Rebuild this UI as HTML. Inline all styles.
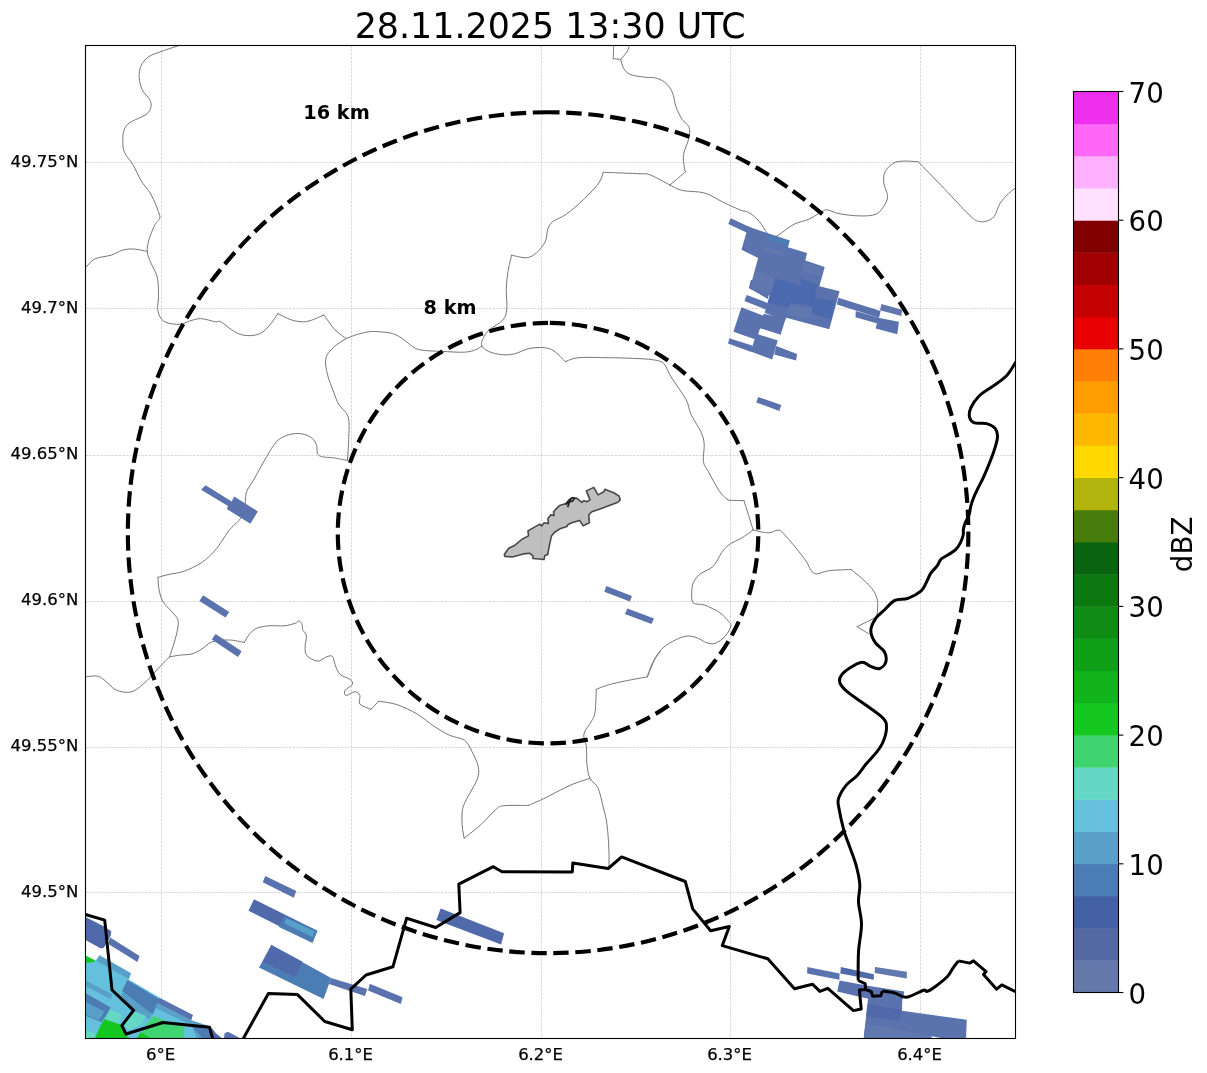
<!DOCTYPE html>
<html><head><meta charset="utf-8"><title>Radar 28.11.2025 13:30 UTC</title>
<style>
html,body{margin:0;padding:0;background:#fff;}
body{width:1207px;height:1073px;overflow:hidden;}
svg{display:block;}
text{font-family:"DejaVu Sans","Liberation Sans",sans-serif;fill:#000;}
</style></head><body>
<svg width="1207" height="1073" viewBox="0 0 1207 1073">
<rect width="1207" height="1073" fill="#fff"/>
<defs><clipPath id="ax"><rect x="85.5" y="45.5" width="930.0" height="993.0"/></clipPath></defs>
<g clip-path="url(#ax)">

<g stroke="#b0b0b0" stroke-width="0.65" stroke-dasharray="2.6 1.1" fill="none" opacity="0.75">
<line x1="161.5" y1="45.5" x2="161.5" y2="1038.5"/>
<line x1="351.5" y1="45.5" x2="351.5" y2="1038.5"/>
<line x1="541.5" y1="45.5" x2="541.5" y2="1038.5"/>
<line x1="730.5" y1="45.5" x2="730.5" y2="1038.5"/>
<line x1="920.5" y1="45.5" x2="920.5" y2="1038.5"/>
<line x1="85.5" y1="162.5" x2="1015.5" y2="162.5"/>
<line x1="85.5" y1="308.5" x2="1015.5" y2="308.5"/>
<line x1="85.5" y1="455.5" x2="1015.5" y2="455.5"/>
<line x1="85.5" y1="601.5" x2="1015.5" y2="601.5"/>
<line x1="85.5" y1="747.5" x2="1015.5" y2="747.5"/>
<line x1="85.5" y1="892.5" x2="1015.5" y2="892.5"/>
</g>
<g stroke="#767676" stroke-width="1.0" fill="none" stroke-linejoin="round" stroke-linecap="round">
<path d="M180.7,45.0C177.6,46.0 167.5,49.2 162.1,51.2C156.7,53.2 151.9,54.4 148.4,56.9C144.9,59.4 142.4,62.7 140.9,66.1C139.4,69.5 139.0,73.3 139.2,77.3C139.4,81.2 140.4,86.1 142.2,89.8C143.9,93.5 148.2,96.8 149.7,99.7C151.1,102.6 151.5,104.7 150.9,107.2C150.3,109.7 149.4,112.0 145.9,114.6C142.4,117.2 133.4,120.1 129.8,122.6C126.2,125.1 125.5,126.8 124.3,129.6C123.1,132.4 122.8,135.8 122.8,139.5C122.8,143.2 122.5,147.6 124.3,151.9C126.1,156.2 130.7,160.8 133.5,165.6C136.3,170.4 138.0,175.7 140.9,180.5C143.8,185.3 148.0,189.0 150.9,194.2C153.8,199.4 157.0,207.5 158.4,211.6C159.8,215.7 160.4,215.9 159.6,218.6C158.8,221.3 155.5,222.3 153.4,227.8C151.3,233.3 146.7,243.5 147.2,251.4C147.7,259.3 154.7,268.9 156.6,275.1C158.5,281.3 158.1,284.8 158.4,288.8C158.7,292.8 158.5,295.9 158.4,299.0C158.3,302.1 157.4,304.5 157.6,307.4C157.8,310.2 158.2,313.6 159.6,316.1C161.0,318.6 162.5,320.9 165.8,322.3C169.1,323.7 175.6,324.5 179.5,324.3C183.4,324.1 186.0,322.1 189.5,321.1C193.0,320.2 196.2,318.5 200.6,318.6C204.9,318.7 212.3,321.3 215.6,321.8C218.9,322.3 217.8,320.3 220.5,321.6C223.2,322.9 228.2,327.6 231.7,329.8C235.2,332.0 238.0,333.9 241.7,334.8C245.4,335.7 250.4,335.9 254.1,335.3C257.8,334.7 261.0,333.4 264.1,331.0C267.2,328.6 270.5,324.0 272.8,321.1C275.1,318.2 277.0,314.9 277.8,313.6"/>
<path d="M277.8,313.6C280.1,314.7 287.0,318.5 291.4,319.9C295.8,321.3 300.2,321.9 303.9,321.8C307.6,321.7 310.5,320.5 313.8,319.4C317.1,318.2 322.1,315.6 323.8,314.9"/>
<path d="M323.8,314.9C325.7,317.4 331.3,325.9 335.0,329.8C338.7,333.7 344.3,337.1 346.2,338.5"/>
<path d="M85.5,267.6C87.1,266.2 90.6,261.0 94.9,258.9C99.2,256.8 106.5,256.6 111.1,255.2C115.7,253.8 118.6,251.2 122.3,250.2C126.0,249.2 129.3,248.8 133.5,249.0C137.7,249.2 144.9,251.0 147.2,251.4"/>
<path d="M346.2,338.5C347.9,337.9 352.4,335.9 356.1,334.8C359.8,333.7 364.6,332.3 368.6,331.8C372.6,331.3 375.9,331.5 379.9,331.8C383.8,332.1 388.6,332.4 392.3,333.5C396.0,334.6 398.8,336.2 402.3,338.5C405.8,340.8 410.2,345.2 413.5,347.2C416.8,349.1 417.4,349.5 422.2,350.2C427.0,350.9 435.1,351.1 442.1,351.4C449.2,351.7 458.9,352.5 464.5,352.2C470.1,351.9 472.8,350.7 475.7,349.7C478.6,348.7 480.9,346.6 481.9,346.0"/>
<path d="M346.2,338.5C344.1,339.9 337.1,343.9 333.7,347.2C330.3,350.5 326.8,353.8 325.8,358.4C324.8,363.0 326.2,369.0 327.5,374.6C328.8,380.2 331.8,387.0 333.7,392.0C335.6,397.0 336.3,400.2 338.7,404.4C341.1,408.5 346.5,411.1 348.2,416.9C349.9,422.7 348.8,432.1 348.7,439.3C348.6,446.6 347.6,456.9 347.4,460.4"/>
<path d="M347.4,460.4C345.1,460.0 338.5,458.7 333.7,457.9C328.9,457.1 321.7,457.7 318.8,455.4C315.9,453.1 317.8,447.3 316.3,444.2C314.9,441.1 313.0,438.6 310.1,436.8C307.2,435.0 302.8,433.7 298.9,433.5C295.0,433.3 290.2,434.1 286.5,435.5C282.8,436.9 279.8,438.2 276.5,441.7C273.2,445.2 270.3,450.5 266.6,456.7C262.9,462.9 257.4,473.3 254.1,479.1C250.8,484.9 248.1,487.8 246.7,491.5C245.2,495.2 245.8,498.1 245.4,501.5C245.0,504.9 245.5,508.9 244.5,512.0C243.5,515.1 241.7,517.1 239.2,520.1C236.7,523.1 232.2,526.5 229.3,530.0C226.4,533.5 224.3,537.7 221.8,541.2C219.3,544.7 217.6,547.7 214.3,551.2C211.0,554.7 206.9,559.1 201.9,562.4C196.9,565.7 189.9,569.1 184.5,571.1C179.1,573.1 174.0,573.3 169.6,574.3C165.2,575.3 159.8,576.8 157.9,577.3"/>
<path d="M157.9,577.3C158.1,579.4 158.2,585.6 159.1,589.8C160.0,593.9 160.7,598.1 163.3,602.2C165.9,606.3 172.0,611.3 174.5,614.6C177.0,617.9 178.1,618.4 178.3,622.1C178.5,625.8 177.2,631.2 175.8,637.0C174.4,642.8 170.6,653.6 169.6,656.9"/>
<path d="M169.6,656.9C167.9,658.6 163.3,663.0 159.6,666.9C155.9,670.8 151.3,676.6 147.2,680.5C143.0,684.4 138.4,688.5 134.7,690.5C131.0,692.5 128.1,692.4 124.8,692.2C121.5,692.0 118.1,691.2 114.8,689.3C111.5,687.3 107.8,682.7 104.9,680.5C102.0,678.3 100.6,676.7 97.4,676.1C94.2,675.5 87.5,676.7 85.5,676.8"/>
<path d="M169.6,656.9C171.2,656.6 175.8,655.7 179.5,655.2C183.2,654.7 188.2,654.9 191.9,653.9C195.6,652.9 198.6,651.0 201.9,649.0C205.2,647.0 207.2,643.5 211.8,642.0C216.4,640.5 223.9,639.9 229.3,640.0C234.7,640.1 241.7,642.1 244.2,642.5"/>
<path d="M244.2,642.5C245.0,641.2 247.1,636.9 249.2,634.5C251.3,632.1 253.3,629.8 256.6,628.3C259.9,626.8 264.5,626.2 269.1,625.8C273.7,625.4 279.6,626.2 284.0,625.8C288.4,625.4 292.7,624.1 295.2,623.3C297.7,622.5 297.8,620.6 298.9,620.8C300.0,621.0 301.5,623.1 302.1,624.6C302.7,626.1 301.9,627.7 302.6,629.6C303.3,631.5 306.0,632.9 306.4,635.8C306.8,638.7 305.0,643.7 305.1,647.0C305.2,650.3 304.8,653.4 306.9,655.7C309.0,658.1 314.4,660.9 317.6,661.1C320.8,661.3 323.8,657.7 326.3,656.9C328.8,656.1 331.1,655.1 332.5,656.4C333.9,657.6 333.8,661.4 335.0,664.4C336.2,667.4 337.5,671.8 340.0,674.3C342.5,676.8 347.8,677.6 349.9,679.3C352.0,681.0 353.2,682.4 352.4,684.3C351.6,686.2 345.9,688.6 344.9,690.5C343.9,692.4 344.5,695.3 346.2,695.5C347.9,695.7 352.6,691.7 354.9,691.7C357.2,691.7 359.1,693.4 359.9,695.5C360.7,697.6 358.0,701.9 359.9,704.2C361.8,706.5 369.1,708.4 371.0,709.2"/>
<path d="M371.0,709.2C372.3,707.9 377.4,702.5 378.7,701.2"/>
<path d="M378.7,701.2C381.8,701.8 390.9,702.6 397.3,704.7C403.7,706.9 411.0,710.5 417.2,714.1C423.4,717.8 429.2,723.1 434.6,726.6C440.0,730.1 444.6,733.0 449.6,735.3C454.6,737.6 460.8,737.5 464.5,740.2C468.2,742.9 469.6,747.0 471.9,751.4C474.2,755.8 477.2,762.0 478.2,766.4C479.2,770.8 478.8,774.1 477.7,778.0C476.6,781.9 473.9,785.8 471.7,789.9C469.5,794.0 466.3,799.1 464.7,802.8C463.1,806.4 462.6,808.0 462.2,811.8C461.8,815.6 461.9,821.3 462.2,825.7C462.5,830.1 463.8,836.1 464.1,838.2"/>
<path d="M464.1,838.2C466.7,836.1 474.4,830.4 479.7,825.7C484.9,821.0 491.6,813.1 495.6,809.8C499.6,806.5 498.0,806.5 503.5,805.8C509.0,805.1 524.2,805.5 528.4,805.4"/>
<path d="M528.4,805.4C530.9,804.3 536.2,802.2 543.3,798.8C550.4,795.4 563.3,788.3 571.1,784.9C578.9,781.5 586.9,779.5 590.0,778.4"/>
<path d="M660.2,651.9C659.3,653.1 656.9,655.2 654.8,659.4C652.6,663.5 648.5,673.9 647.3,676.8"/>
<path d="M647.3,676.8C642.9,677.6 628.0,680.3 621.2,681.8C614.4,683.2 610.4,684.2 606.3,685.5C602.1,686.8 598.0,688.7 596.3,689.3"/>
<path d="M596.3,689.3C596.1,693.0 595.9,706.2 595.1,711.6C594.3,717.0 593.2,717.9 591.3,721.6C589.4,725.3 584.7,729.9 583.9,734.0C583.1,738.1 585.9,741.5 586.4,746.5C586.9,751.5 586.3,758.6 586.9,763.9C587.5,769.2 588.1,774.4 590.0,778.4C591.9,782.4 595.9,783.3 598.0,787.9C600.1,792.5 601.4,799.8 602.9,805.8C604.4,811.8 605.9,816.4 606.9,823.7C607.9,831.0 608.6,842.2 608.9,849.5C609.2,856.8 608.9,864.4 608.9,867.4"/>
<path d="M613.7,45.0C613.6,47.3 613.3,56.4 613.2,58.7"/>
<path d="M613.2,58.7C614.5,58.8 619.5,59.3 620.7,59.4"/>
<path d="M620.7,59.4C621.8,58.0 626.0,53.6 627.4,51.2C628.8,48.8 628.9,46.0 629.2,45.0"/>
<path d="M620.7,59.4C621.2,60.9 622.0,66.0 623.7,68.6C625.4,71.2 627.4,73.3 631.1,74.8C634.8,76.2 642.1,76.8 646.1,77.3C650.1,77.8 651.8,77.0 654.9,77.8C658.0,78.6 662.0,79.9 664.9,82.3C667.8,84.7 670.4,88.0 672.3,92.2C674.2,96.4 674.4,102.6 676.1,107.2C677.8,111.8 680.1,116.2 682.3,119.6C684.5,123.0 688.3,124.3 689.3,127.6C690.3,130.9 689.5,135.0 688.5,139.5C687.5,144.0 684.2,149.8 683.5,154.4C682.8,159.0 684.0,164.0 684.3,166.9C684.6,169.8 685.3,171.0 685.5,171.8"/>
<path d="M685.5,171.8C682.9,174.0 672.5,182.8 669.9,185.0"/>
<path d="M669.9,185.0C666.6,183.3 655.0,176.7 650.0,174.8C645.0,172.9 644.4,174.1 640.0,173.8C635.6,173.5 629.8,173.3 623.7,173.1C617.6,172.8 606.7,172.4 603.3,172.3"/>
<path d="M603.3,172.3C602.5,174.1 602.0,178.5 598.8,183.0C595.6,187.5 589.3,194.0 583.9,199.2C578.5,204.4 571.7,210.4 566.5,214.1C561.3,217.8 555.9,219.1 552.8,221.6C549.7,224.1 549.0,225.8 547.8,229.1C546.5,232.4 547.2,237.6 545.3,241.5C543.4,245.4 539.7,250.0 536.6,252.7C533.5,255.4 530.9,257.3 526.7,257.7C522.6,258.1 514.2,255.6 511.7,255.2"/>
<path d="M511.7,255.2C511.1,257.9 508.9,265.7 508.0,271.3C507.1,276.9 506.5,282.6 506.3,288.8C506.1,295.0 507.4,303.5 506.8,308.7C506.2,313.9 505.9,316.4 503.0,319.9C500.1,323.4 492.7,326.7 489.4,329.8C486.1,332.9 484.4,335.8 483.1,338.5C481.9,341.2 480.8,343.8 481.9,346.0C482.9,348.2 486.1,350.2 489.4,351.7C492.7,353.1 497.7,354.3 501.8,354.7C505.9,355.1 509.6,354.9 514.2,353.9C518.8,352.9 524.2,349.5 529.2,348.5C534.2,347.5 540.0,347.3 544.1,347.7C548.2,348.1 550.5,348.6 554.0,350.9C557.5,353.2 563.3,359.8 565.2,361.6"/>
<path d="M565.2,361.6C567.5,361.0 571.6,358.4 578.9,357.7C586.2,357.0 599.7,357.6 608.8,357.7C617.9,357.8 626.3,358.1 633.6,358.4C640.9,358.7 647.4,358.9 652.4,359.7C657.4,360.5 660.5,360.5 663.6,363.4C666.7,366.3 667.4,371.1 671.1,377.1C674.8,383.1 682.7,393.3 686.0,399.5C689.3,405.7 688.5,409.0 691.0,414.4C693.5,419.8 698.7,426.8 700.9,431.8C703.1,436.8 703.8,439.2 704.2,444.2C704.6,449.2 702.7,457.0 703.4,461.6C704.1,466.2 705.7,466.6 708.4,471.6C711.1,476.6 716.3,486.7 719.6,491.5C722.9,496.3 726.8,498.8 728.3,500.2"/>
<path d="M728.3,500.2C730.9,500.3 741.4,500.6 744.0,500.7"/>
<path d="M744.0,500.7C745.5,505.6 751.7,525.1 753.2,530.0"/>
<path d="M669.9,185.0C672.0,185.9 676.5,189.2 682.3,190.5C688.1,191.8 698.1,191.1 704.7,193.0C711.3,194.9 716.3,198.9 722.1,201.7C727.9,204.5 734.9,207.8 739.5,209.7C744.1,211.6 746.2,210.9 749.5,212.9C752.8,214.9 756.5,218.3 759.4,221.6C762.3,224.9 764.8,230.1 766.9,232.8C769.0,235.5 771.0,237.1 771.8,238.0"/>
<path d="M771.8,238.0C772.8,237.6 774.4,237.6 778.1,235.3C781.8,233.0 789.0,226.8 794.2,224.1C799.4,221.4 804.2,221.4 809.2,219.1C814.2,216.8 820.8,211.8 824.1,210.4C827.4,209.0 826.6,209.9 829.1,210.4C831.6,210.9 834.0,212.7 839.0,213.6C844.0,214.5 852.7,215.8 858.9,215.9C865.1,216.0 871.9,216.1 876.3,214.1C880.6,212.1 883.1,207.3 885.0,204.2C886.9,201.1 887.7,199.0 887.5,195.5C887.3,192.0 884.2,186.9 883.8,183.0C883.4,179.1 883.4,175.1 885.0,171.8C886.6,168.5 890.6,164.9 893.7,163.1C896.8,161.3 899.6,161.3 903.7,161.1C907.8,160.9 915.8,161.6 918.2,161.7"/>
<path d="M918.2,161.7C922.5,166.1 935.4,179.5 943.9,188.3C952.4,197.2 963.5,209.4 969.1,214.8C974.7,220.2 974.7,219.9 977.5,221.0C980.3,222.1 983.1,222.1 985.9,221.3C988.7,220.5 992.0,219.1 994.3,216.2C996.6,213.2 997.6,207.3 999.9,203.6C1002.2,199.9 1005.6,196.5 1008.3,193.8C1010.9,191.2 1014.5,188.7 1015.8,187.7"/>
<path d="M753.2,530.0C751.2,531.4 745.0,536.0 741.2,538.3C737.4,540.6 733.7,541.4 730.5,543.7C727.3,546.0 724.8,548.5 721.9,552.3C719.0,556.1 716.8,562.7 713.2,566.3C709.6,569.9 703.6,571.2 700.3,573.9C697.0,576.6 694.8,579.3 693.4,582.5C692.0,585.7 691.7,589.8 691.7,593.2C691.7,596.6 691.2,600.9 693.4,602.9C695.5,604.9 700.2,603.5 704.6,605.1C709.0,606.7 715.8,609.9 719.7,612.6C723.7,615.3 726.4,619.0 728.3,621.2C730.2,623.4 731.4,623.5 730.9,626.0C730.4,628.5 727.7,633.4 725.1,636.3C722.5,639.2 718.5,642.1 715.4,643.2C712.3,644.3 710.0,643.8 706.8,642.8C703.6,641.8 699.6,638.5 696.0,637.4C692.4,636.3 689.2,635.6 685.2,636.3C681.2,637.0 676.2,639.5 672.3,641.7C668.3,643.9 664.7,645.9 661.5,649.3C658.3,652.7 655.3,657.6 652.9,662.2C650.5,666.8 648.2,674.4 647.3,676.8"/>
<path d="M753.2,530.0C755.7,530.5 764.1,532.9 768.2,532.9C772.3,532.9 775.4,530.0 777.9,530.1C780.4,530.2 780.4,530.6 783.3,533.4C786.2,536.2 791.3,542.3 795.1,546.9C798.9,551.5 803.2,556.9 805.9,560.9C808.6,564.9 809.5,568.4 811.3,570.6C813.1,572.8 813.5,573.9 816.6,573.9C819.7,573.9 823.9,571.3 829.6,570.6C835.4,569.9 847.5,569.7 851.1,569.5"/>
<path d="M851.1,569.5C853.2,571.3 860.2,576.7 864.0,580.3C867.8,583.9 871.4,587.5 873.7,591.1C876.0,594.7 877.1,597.6 877.6,601.9C878.1,606.2 877.1,614.4 877.0,616.9"/>
<path d="M877.0,616.9C873.7,618.5 860.4,625.0 857.1,626.6"/>
<path d="M857.1,626.6C859.0,627.8 866.4,632.4 868.3,633.5"/>
</g>
<g stroke="none">
<polygon fill="#5a72ae" points="205.6,485.3 231.7,501.4 234.2,496.5 257.9,511.4 250.4,523.8 226.8,508.9 228.0,505.9 201.1,489.8"/>
<polygon fill="#5a72ae" points="203.1,595.2 229.3,612.1 225.5,617.6 199.4,600.9"/>
<polygon fill="#5a72ae" points="215.6,634.0 241.7,651.2 238.0,656.9 211.8,639.5"/>
<polygon fill="#5a72ae" points="606.3,586.0 631.9,596.0 629.9,601.4 604.3,591.7"/>
<polygon fill="#5a72ae" points="627.4,608.4 654.0,618.4 651.5,624.1 624.9,613.9"/>
<polygon fill="#5a72ae" points="758.2,397.0 781.3,404.9 779.3,411.1 756.2,402.4"/>
<polygon fill="#4f69aa" points="440.7,908.4 504.1,933.2 501.1,944.4 436.4,920.0"/>
<polygon fill="#5a72ae" points="331.0,978.0 367.3,989.1 364.9,995.9 329.0,984.0"/>
<polygon fill="#5a72ae" points="369.8,983.7 402.6,997.3 400.9,1004.1 368.1,990.4"/>
<polygon fill="#5a72ae" points="265.2,876.0 296.3,891.0 293.8,897.7 262.7,882.3"/>
<polygon fill="#4f69aa" points="254.0,899.2 317.4,930.7 312.4,942.7 248.5,910.8"/>
<polygon fill="#4c7cb4" points="283.8,915.8 317.4,930.7 312.4,942.7 278.9,927.0"/>
<polygon fill="#58a0c8" points="286.3,918.3 314.9,931.5 312.4,936.9 284.3,923.3"/>
<polygon fill="#4c7cb4" points="271.4,945.1 331.1,978.0 323.6,999.1 259.0,967.5"/>
<polygon fill="#4f69aa" points="271.4,945.1 302.5,961.8 295.0,976.7 262.7,961.8"/>
<polygon fill="#5a72ae" points="730.7,218.3 750.6,227.4 748.1,233.2 728.3,224.1"/>
<polygon fill="#5a72ae" points="748.1,226.5 789.6,240.6 787.9,247.3 807.0,253.1 805.3,260.5 824.7,267.1 819.4,286.2 839.6,291.2 837.6,298.6 829.3,329.3 786.3,317.7 784.6,321.0 764.7,312.7 768.0,301.1 769.7,295.3 749.8,288.7 758.1,258.0 741.5,249.7"/>
<polygon fill="#5a72ae" points="838.4,297.8 880.7,311.0 879.0,317.7 836.8,304.4"/>
<polygon fill="#5a72ae" points="855.8,311.0 879.0,317.7 877.4,323.5 855.5,317.3"/>
<polygon fill="#6078ae" points="881.5,304.1 902.2,309.7 901.4,316.0 879.9,310.2"/>
<polygon fill="#5a72ae" points="878.2,317.7 898.9,321.8 897.3,334.2 875.7,328.4"/>
<polygon fill="#5a72ae" points="741.4,307.3 764.2,316.0 756.3,339.7 733.4,331.7"/>
<polygon fill="#5a72ae" points="763.7,313.8 785.6,318.8 780.6,334.7 758.3,327.7"/>
<polygon fill="#5a72ae" points="756.3,333.7 777.7,340.6 772.2,359.5 750.8,351.6"/>
<polygon fill="#5a72ae" points="729.4,338.2 752.8,345.8 751.3,352.1 728.0,343.6"/>
<polygon fill="#5a72ae" points="776.2,346.1 797.1,354.1 796.1,360.5 774.2,354.6"/>
<polygon fill="#5a72ae" points="746.8,294.9 768.7,303.4 766.7,309.8 744.4,300.9"/>
<polygon fill="#5a72ae" points="750.8,280.0 773.7,280.0 767.7,298.9 748.8,288.0"/>
<polygon fill="#4a69ae" points="774.7,277.9 801.2,286.2 799.5,277.9 817.7,284.5 814.4,297.8 835.1,301.1 831.0,319.3 811.1,312.7 812.8,306.1 789.6,302.8 787.9,307.7 768.0,302.8"/>
<polygon fill="#6078ae" points="764.7,246.4 784.6,251.4 782.9,256.4 763.9,251.4"/>
<polygon fill="#6078ae" points="804.5,262.2 823.5,268.0 821.0,276.3 802.0,271.3"/>
<polygon fill="#6078ae" points="755.6,271.3 775.5,277.9 771.3,292.8 750.6,287.9"/>
<polygon fill="#6078ae" points="789.6,304.4 811.9,308.6 810.3,319.3 786.3,314.4"/>
<polygon fill="#4c7cb4" points="769.7,235.7 789.6,240.6 787.9,246.4 768.0,240.6"/>
<polygon fill="#5a72ae" points="807.3,967.0 839.6,973.6 839.4,979.8 807.1,973.6"/>
<polygon fill="#4f69aa" points="840.9,967.0 873.8,974.2 873.8,979.8 840.3,973.6"/>
<polygon fill="#6078ae" points="875.1,967.0 906.8,971.7 906.8,978.6 874.7,973.0"/>
<polygon fill="#5a72ae" points="839.6,980.4 869.5,986.0 904.3,991.6 903.0,999.1 867.0,998.5 837.2,991.6"/>
<polygon fill="#5a72ae" points="868.3,996.7 902.6,991.4 901.9,1010.8 966.8,1019.8 966.0,1038.4 863.6,1038.4"/>
<polygon fill="#4f69aa" points="867.6,1004.1 901.1,1010.1 900.4,1020.5 866.1,1016.1"/>
<polygon fill="#6078ae" points="865.4,1023.5 899.6,1029.5 932.5,1036.2 944.4,1038.7 863.9,1038.7"/>
<polygon fill="#ffffff" points="931.7,1036.2 966.0,1042.9 966.0,1044.4 931.7,1044.4"/>
<polygon fill="#4f69aa" points="84.5,916.4 104.6,926.8 111.3,931.3 110.6,935.8 103.9,947.7 100.9,948.5 84.5,939.5"/>
<polygon fill="#5a72ae" points="109.8,937.3 139.6,955.9 137.4,961.9 108.3,944.0"/>
<polygon fill="#14c820" points="84.9,955.2 95.5,960.5 93.3,965.8 84.9,962.3"/>
<polygon fill="#64c0dc" points="84.9,963.2 94.6,961.8 99.5,955.2 130.9,973.3 128.7,979.5 160.2,998.1 170.0,1003.3 192.8,1014.9 191.1,1020.2 209.8,1026.5 211.4,1028.1 221.4,1039.0 84.0,1039.0"/>
<polygon fill="#58a0c8" points="99.5,955.2 130.9,973.3 128.7,979.1 96.8,960.9"/>
<polygon fill="#58a0c8" points="84.9,980.0 112.3,994.6 110.6,999.2 84.9,985.6"/>
<polygon fill="#4c7cb4" points="84.9,992.8 110.6,1007.4 107.9,1013.6 101.3,1022.1 84.9,1015.4"/>
<polygon fill="#58a0c8" points="84.9,1001.7 104.4,1011.4 99.1,1020.3 84.9,1014.5"/>
<polygon fill="#64d8c4" points="109.7,1009.2 121.2,1015.0 119.4,1024.7 104.4,1019.4"/>
<polygon fill="#64d8c4" points="84.9,1029.6 95.5,1033.6 94.2,1038.9 84.9,1038.9"/>
<polygon fill="#14c820" points="104.4,1019.2 121.2,1024.7 126.5,1035.3 130.1,1038.9 94.6,1038.9 100.8,1024.7"/>
<polygon fill="#4c7cb4" points="127.4,980.0 159.3,999.0 156.2,1007.0 152.2,1015.0 122.1,991.1"/>
<polygon fill="#58a0c8" points="123.0,991.9 152.2,1014.1 149.5,1019.4 133.6,1010.5 119.4,999.9"/>
<polygon fill="#5a72ae" points="159.3,998.0 170.0,1003.3 192.8,1014.9 191.1,1020.2 168.0,1008.5 157.3,1003.0"/>
<polygon fill="#58a0c8" points="157.3,1003.0 168.0,1008.5 191.1,1020.2 209.8,1026.5 211.0,1029.0 186.0,1022.5 166.0,1013.0 154.9,1007.4"/>
<polygon fill="#64d8c4" points="133.6,1011.0 146.0,1015.9 140.7,1024.7 128.3,1030.0 123.9,1024.7"/>
<polygon fill="#40d470" points="154.0,1015.9 163.7,1020.3 184.0,1024.7 184.0,1038.9 138.9,1038.9 146.0,1024.7"/>
<polygon fill="#14c820" points="140.7,1032.2 152.2,1038.9 136.3,1038.9"/>
<polygon fill="#58a0c8" points="191.1,1024.8 209.8,1027.3 211.0,1038.9 197.3,1038.9"/>
<polygon fill="#4c7cb4" points="192.4,1026.5 209.8,1028.3 211.0,1038.9 203.1,1038.9"/>
<polygon fill="#4f69aa" points="211.4,1027.3 215.2,1033.1 221.8,1038.1 222.2,1038.9 213.1,1038.9"/>
<polygon fill="#5a72ae" points="224.7,1033.2 228.0,1031.8 238.8,1037.6 239.3,1039.0 223.7,1039.0"/>
</g>
<polygon points="504.3,554.5 508.6,548.3 514.9,545.2 522.3,539.0 528.5,535.9 527.9,530.9 539.7,524.1 541.6,525.9 544.1,522.8 548.4,523.5 547.8,518.5 550.9,514.8 554.0,515.4 553.4,511.7 559.6,505.4 565.8,503.6 569.5,499.2 572.6,497.6 577.0,498.4 582.0,502.3 583.8,500.5 586.9,501.7 590.0,499.9 586.3,490.9 593.8,487.4 598.1,494.9 603.7,491.8 604.9,489.3 614.3,493.0 619.2,496.1 620.2,499.9 618.0,502.3 608.1,506.1 599.4,509.2 591.9,511.7 588.8,514.8 589.4,522.8 583.2,525.9 579.5,520.4 572.0,522.8 567.7,524.7 567.0,526.6 560.8,528.4 554.6,532.2 551.5,535.9 549.6,544.6 548.4,550.8 547.8,554.5 544.7,555.8 544.1,559.5 532.9,558.5 532.9,555.8 529.8,553.3 523.6,553.9 512.4,557.0 504.9,556.4" fill="#808080" fill-opacity="0.5" stroke="#000" stroke-opacity="0.68" stroke-width="1.6" stroke-linejoin="round"/>
<path d="M565.8,504.8L569.5,500.5L572.0,498.0L574.5,498.6L572.6,501.1L569.5,501.7L567.7,507.3" fill="none" stroke="#202020" stroke-width="1.7" stroke-linejoin="round"/>
<g stroke="#000" stroke-width="3.0" fill="none" stroke-linejoin="round" stroke-linecap="butt">
<path d="M85.4,914.5L104.7,920.1L112.0,990.0L133.6,1010.3L121.8,1025.6L126.1,1034.0L163.0,1022.5L209.5,1027.2L213.0,1040.0"/>
<path d="M242.5,1040.0L268.4,993.4L297.5,994.6L324.8,1021.5L352.3,1029.7L350.8,989.1L366.0,975.0L392.9,966.8L406.6,918.3L435.7,927.5L460.1,912.6L458.8,884.2L493.3,866.7L502.0,871.8L572.3,871.9L572.8,863.1L608.2,868.5L621.6,856.9L685.3,881.5L692.7,908.9L710.6,930.7L729.3,926.5L722.3,945.6L767.8,958.8L794.5,988.8L812.4,984.2L819.9,991.4L827.8,988.3L853.4,1010.6L861.2,1009.0L859.4,989.9L865.7,989.5"/>
<path d="M858.2,980.5L865.1,983.6L865.7,989.5L871.3,991.6L872.6,996.2L880.7,995.7L882.5,991.0"/>
<path d="M958.5,960.9L969.7,963.1L973.5,960.9L986.1,971.6L983.5,974.6L996.6,989.2L1001.8,984.9L1016.0,991.8"/>
<path d="M1017.0,360.0C1016.7,360.5 1017.0,360.3 1015.2,363.0C1013.4,365.7 1010.0,372.3 1006.0,376.3C1002.0,380.3 995.9,384.0 991.4,387.2C986.9,390.4 982.7,392.3 979.3,395.7C975.9,399.1 972.4,404.2 970.8,407.8C969.2,411.4 969.0,415.0 969.6,417.5C970.2,420.0 971.7,421.9 974.5,422.9C977.3,423.9 983.2,422.7 986.6,423.6C990.0,424.5 993.3,426.2 995.1,428.4C996.9,430.6 997.7,433.0 997.5,436.9C997.3,440.8 996.0,445.0 993.8,451.5C991.6,458.0 986.9,469.4 984.2,475.7C981.5,482.0 979.2,485.6 977.4,489.3C975.6,493.0 974.7,494.9 973.6,497.7C972.5,500.5 971.5,503.3 970.8,506.1C970.1,508.9 970.1,511.7 969.2,514.5C968.3,517.3 966.2,520.4 965.2,522.9C964.2,525.4 963.7,527.4 963.4,529.4C963.1,531.4 963.7,532.8 963.2,535.0C962.7,537.2 961.8,540.0 960.6,542.4C959.4,544.8 957.9,547.4 955.9,549.4C953.9,551.4 951.0,553.0 948.5,554.6C946.0,556.2 942.9,557.4 941.0,559.2C939.1,561.1 939.0,563.4 937.3,565.7C935.6,568.0 932.6,570.5 930.8,573.2C929.0,575.9 928.1,579.1 926.5,582.0C924.9,584.9 924.3,588.1 921.2,590.8C918.1,593.5 912.3,596.7 907.9,598.3C903.5,599.9 898.7,598.4 894.8,600.4C890.9,602.4 887.6,606.9 884.4,610.0C881.1,613.1 877.6,615.6 875.3,619.1C873.0,622.6 870.8,627.0 870.8,630.9C870.8,634.8 873.0,639.1 875.3,642.6C877.6,646.1 882.7,648.5 884.4,651.8C886.1,655.1 886.6,659.4 885.7,662.2C884.8,665.0 881.8,668.1 879.2,668.7C876.6,669.4 872.8,667.2 870.0,666.1C867.2,665.0 865.5,662.0 862.2,662.2C859.0,662.4 854.0,665.2 850.5,667.4C847.0,669.6 843.0,672.7 841.3,675.3C839.5,677.9 838.9,680.3 840.0,683.1C841.1,685.9 843.4,688.5 847.8,692.2C852.1,695.9 860.2,700.9 866.1,705.3C872.0,709.6 879.7,714.6 883.1,718.3C886.5,722.0 886.5,723.5 886.5,727.4C886.5,731.3 884.8,737.7 883.1,741.8C881.5,745.9 879.4,748.5 876.6,752.2C873.8,755.9 869.4,760.1 866.1,764.0C862.8,767.9 860.3,772.2 857.0,775.7C853.7,779.2 849.5,781.2 846.5,784.9C843.5,788.6 840.0,794.2 838.7,797.9C837.4,801.6 837.8,801.6 838.7,807.0C839.6,812.4 842.2,824.2 843.9,830.5C845.6,836.8 847.0,839.3 849.0,845.0C851.0,850.7 854.2,858.3 856.0,864.9C857.8,871.5 859.4,878.5 859.8,884.7C860.2,890.9 858.2,895.5 858.5,902.1C858.8,908.7 861.5,916.2 861.5,924.5C861.5,932.8 859.0,942.6 858.5,951.9C858.0,961.2 858.2,975.7 858.2,980.5"/>
<path d="M882.5,991.0C884.5,991.3 890.9,992.0 894.3,992.9C897.7,993.8 900.5,996.0 903.0,996.6C905.5,997.2 905.8,997.7 909.2,996.6C912.7,995.5 920.7,991.1 923.7,990.2C926.7,989.3 925.2,992.0 927.2,991.4C929.2,990.8 932.0,989.0 935.4,986.5C938.8,984.0 944.4,979.6 947.4,976.5C950.4,973.4 951.4,970.2 953.3,967.6C955.1,965.0 957.6,962.0 958.5,960.9"/>
</g>
<g stroke="#000" stroke-width="4.17" fill="none" stroke-dasharray="15.42 6.67">
<path d="M548.1,112.25000000000006A420.45,420.45 0 0 0 548.1,953.1500000000001A420.45,420.45 0 0 0 548.1,112.25000000000006"/>
<path d="M548.05,322.95000000000005A210.25,210.25 0 0 0 548.05,743.45A210.25,210.25 0 0 0 548.05,322.95000000000005"/>
</g>
</g>
<text x="303.3" y="119.2" font-size="19.44" font-weight="bold" textLength="66.5" lengthAdjust="spacingAndGlyphs">16 km</text>
<text x="423.6" y="313.8" font-size="19.44" font-weight="bold" textLength="52.8" lengthAdjust="spacingAndGlyphs">8 km</text>
<rect x="85.5" y="45.5" width="930.0" height="993.0" fill="none" stroke="#000" stroke-width="1.1"/>
<text x="550.2" y="37.8" font-size="34.85" text-anchor="middle">28.11.2025 13:30 UTC</text>
<text x="160.6" y="1059.6" font-size="16.5" text-anchor="middle" stroke="#000" stroke-width="0.25">6°E</text>
<text x="350.6" y="1059.6" font-size="16.5" text-anchor="middle" stroke="#000" stroke-width="0.25">6.1°E</text>
<text x="540.6" y="1059.6" font-size="16.5" text-anchor="middle" stroke="#000" stroke-width="0.25">6.2°E</text>
<text x="729.6" y="1059.6" font-size="16.5" text-anchor="middle" stroke="#000" stroke-width="0.25">6.3°E</text>
<text x="919.6" y="1059.6" font-size="16.5" text-anchor="middle" stroke="#000" stroke-width="0.25">6.4°E</text>
<text x="78.3" y="167.3" font-size="16.5" text-anchor="end" stroke="#000" stroke-width="0.25">49.75°N</text>
<text x="78.3" y="313.3" font-size="16.5" text-anchor="end" stroke="#000" stroke-width="0.25">49.7°N</text>
<text x="78.3" y="459.3" font-size="16.5" text-anchor="end" stroke="#000" stroke-width="0.25">49.65°N</text>
<text x="78.3" y="605.3" font-size="16.5" text-anchor="end" stroke="#000" stroke-width="0.25">49.6°N</text>
<text x="78.3" y="751.3" font-size="16.5" text-anchor="end" stroke="#000" stroke-width="0.25">49.55°N</text>
<text x="78.3" y="897.3" font-size="16.5" text-anchor="end" stroke="#000" stroke-width="0.25">49.5°N</text>
<rect x="1073.5" y="960.32" width="45.0" height="32.58" fill="#6478aa"/>
<rect x="1073.5" y="928.14" width="45.0" height="32.58" fill="#5468a4"/>
<rect x="1073.5" y="895.96" width="45.0" height="32.58" fill="#4460a4"/>
<rect x="1073.5" y="863.79" width="45.0" height="32.58" fill="#4c7cb4"/>
<rect x="1073.5" y="831.61" width="45.0" height="32.58" fill="#58a0c8"/>
<rect x="1073.5" y="799.43" width="45.0" height="32.58" fill="#64c0dc"/>
<rect x="1073.5" y="767.25" width="45.0" height="32.58" fill="#64d8c4"/>
<rect x="1073.5" y="735.07" width="45.0" height="32.58" fill="#40d470"/>
<rect x="1073.5" y="702.89" width="45.0" height="32.58" fill="#14c820"/>
<rect x="1073.5" y="670.71" width="45.0" height="32.58" fill="#12b41c"/>
<rect x="1073.5" y="638.54" width="45.0" height="32.58" fill="#10a018"/>
<rect x="1073.5" y="606.36" width="45.0" height="32.58" fill="#0e8c14"/>
<rect x="1073.5" y="574.18" width="45.0" height="32.58" fill="#0c7810"/>
<rect x="1073.5" y="542.00" width="45.0" height="32.58" fill="#08640e"/>
<rect x="1073.5" y="509.82" width="45.0" height="32.58" fill="#487c0a"/>
<rect x="1073.5" y="477.64" width="45.0" height="32.58" fill="#b0b40c"/>
<rect x="1073.5" y="445.46" width="45.0" height="32.58" fill="#ffd800"/>
<rect x="1073.5" y="413.29" width="45.0" height="32.58" fill="#ffb800"/>
<rect x="1073.5" y="381.11" width="45.0" height="32.58" fill="#ff9c00"/>
<rect x="1073.5" y="348.93" width="45.0" height="32.58" fill="#ff7f06"/>
<rect x="1073.5" y="316.75" width="45.0" height="32.58" fill="#e60000"/>
<rect x="1073.5" y="284.57" width="45.0" height="32.58" fill="#c40000"/>
<rect x="1073.5" y="252.39" width="45.0" height="32.58" fill="#a20000"/>
<rect x="1073.5" y="220.21" width="45.0" height="32.58" fill="#800000"/>
<rect x="1073.5" y="188.04" width="45.0" height="32.58" fill="#ffe0ff"/>
<rect x="1073.5" y="155.86" width="45.0" height="32.58" fill="#ffb0ff"/>
<rect x="1073.5" y="123.68" width="45.0" height="32.58" fill="#ff68f8"/>
<rect x="1073.5" y="91.50" width="45.0" height="32.58" fill="#ee30ee"/>
<rect x="1073.5" y="91.5" width="45.0" height="901.0" fill="none" stroke="#000" stroke-width="1.1"/>
<line x1="1118.5" y1="992.5" x2="1123.4" y2="992.5" stroke="#000" stroke-width="1.1"/>
<text x="1128.6" y="1003.5" font-size="27.6">0</text>
<line x1="1118.5" y1="863.8" x2="1123.4" y2="863.8" stroke="#000" stroke-width="1.1"/>
<text x="1128.6" y="874.8" font-size="27.6">10</text>
<line x1="1118.5" y1="735.1" x2="1123.4" y2="735.1" stroke="#000" stroke-width="1.1"/>
<text x="1128.6" y="746.1" font-size="27.6">20</text>
<line x1="1118.5" y1="606.4" x2="1123.4" y2="606.4" stroke="#000" stroke-width="1.1"/>
<text x="1128.6" y="617.4" font-size="27.6">30</text>
<line x1="1118.5" y1="477.6" x2="1123.4" y2="477.6" stroke="#000" stroke-width="1.1"/>
<text x="1128.6" y="488.6" font-size="27.6">40</text>
<line x1="1118.5" y1="348.9" x2="1123.4" y2="348.9" stroke="#000" stroke-width="1.1"/>
<text x="1128.6" y="359.9" font-size="27.6">50</text>
<line x1="1118.5" y1="220.2" x2="1123.4" y2="220.2" stroke="#000" stroke-width="1.1"/>
<text x="1128.6" y="231.2" font-size="27.6">60</text>
<line x1="1118.5" y1="91.5" x2="1123.4" y2="91.5" stroke="#000" stroke-width="1.1"/>
<text x="1128.6" y="102.5" font-size="27.6">70</text>
<text transform="translate(1191.8,544.4) rotate(-90)" font-size="27.78" text-anchor="middle">dBZ</text>
</svg></body></html>
